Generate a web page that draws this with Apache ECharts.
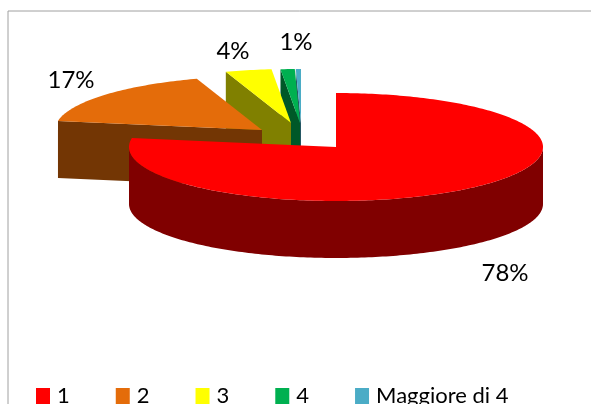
<!DOCTYPE html>
<html>
<head>
<meta charset="utf-8">
<title>Torta 3D</title>
<style>
html, body { margin: 0; padding: 0; background: #fff; }
#main { width: 591px; height: 404px; overflow: hidden; }
</style>
<script src="https://cdn.jsdelivr.net/npm/echarts@6/dist/echarts.min.js"></script>
</head>
<body>
<div id="main"></div>
<script>
// data
var categories = ['1', '2', '3', '4', 'Maggiore di 4'];
var values = [77.7, 17.2, 3.6, 1.1, 0.4];
var labelled = [true, true, true, true, false];

var topColors = ['#ff0000', '#e46c0a', '#ffff00', '#00b050', '#4bacc6'];
var sideColors = ['#800000', '#733604', '#808000', '#005828', '#255763'];

// pie geometry
var radiusX = 207;
var radiusY = 54;
var depth = 57;
// apex of every slice (the small ones are pulled out of the pie)
var apexes = [[336, 147], [262, 130], [291, 123], [300, 123], [301, 123]];
var labelPos = [[505, 273], [71, 80], [233, 51], [296, 42]];

var total = 0;
for (var i = 0; i < values.length; i++) {
	total += values[i];
}
var startAngles = [];
var sum = 0;
for (var i = 0; i < values.length; i++) {
	startAngles.push(sum / total * 360);
	sum += values[i];
}

function rimPoint(apex, deg, dy) {
	var rad = deg * Math.PI / 180;
	return [apex[0] + radiusX * Math.sin(rad), apex[1] - radiusY * Math.cos(rad) + dy];
}

function renderSlice(idx) {
	return function (params, api) {
		var from = startAngles[idx];
		var to = from + api.value(0) / total * 360;
		var apex = apexes[idx];
		var children = [];

		// outer wall, only the part facing the viewer
		var wallFrom = Math.max(from, 90);
		var wallTo = Math.min(to, 270);
		if (wallTo > wallFrom) {
			var wall = [];
			for (var a = wallFrom; a <= wallTo; a++) {
				wall.push(rimPoint(apex, a, 0));
			}
			for (var b = wallTo; b >= wallFrom; b--) {
				wall.push(rimPoint(apex, b, depth));
			}
			children.push({ type: 'polygon', shape: { points: wall }, style: { fill: sideColors[idx] } });
		}

		// cut face on the starting side
		children.push({
			type: 'polygon',
			shape: { points: [apex, rimPoint(apex, from, 0), rimPoint(apex, from, depth), [apex[0], apex[1] + depth]] },
			style: { fill: sideColors[idx] }
		});

		// top of the slice
		var top = [apex];
		for (var c = from; c < to; c++) {
			top.push(rimPoint(apex, c, 0));
		}
		top.push(rimPoint(apex, to, 0));
		children.push({ type: 'polygon', shape: { points: top }, style: { fill: topColors[idx] } });

		return { type: 'group', children: children };
	};
}

var seriesList = [];
// back to front: the big red slice is drawn last
for (var k = values.length - 1; k >= 0; k--) {
	seriesList.push({
		type: 'custom',
		name: categories[k],
		coordinateSystem: 'none',
		silent: true,
		animation: false,
		itemStyle: { color: topColors[k] },
		data: [[values[k]]],
		renderItem: renderSlice(k)
	});
}

var graphics = [
	{ type: 'line', shape: { x1: 8, y1: 11, x2: 591, y2: 11 }, style: { stroke: '#a0a0a0', lineWidth: 1 } },
	{ type: 'line', shape: { x1: 8, y1: 11, x2: 8, y2: 404 }, style: { stroke: '#a0a0a0', lineWidth: 1 } }
];
for (var m = 0; m < values.length; m++) {
	if (labelled[m]) {
		graphics.push({
			type: 'text',
			x: labelPos[m][0],
			y: labelPos[m][1],
			style: {
				text: Math.round(values[m] / total * 100) + '%',
				font: '24px Lato',
				fill: '#000',
				align: 'center',
				verticalAlign: 'middle'
			}
		});
	}
}

var myChart = echarts.init(document.getElementById('main'));
myChart.setOption({
	backgroundColor: '#fff',
	animation: false,
	legend: {
		data: categories,
		left: 36,
		top: 385,
		padding: 0,
		itemGap: 46,
		itemWidth: 14,
		itemHeight: 16,
		icon: 'rect',
		selectedMode: false,
		textStyle: { fontFamily: 'Lato', fontSize: 22, color: '#000', padding: [0, 0, 0, 2] }
	},
	graphic: graphics,
	series: seriesList
});
</script>
</body>
</html>
